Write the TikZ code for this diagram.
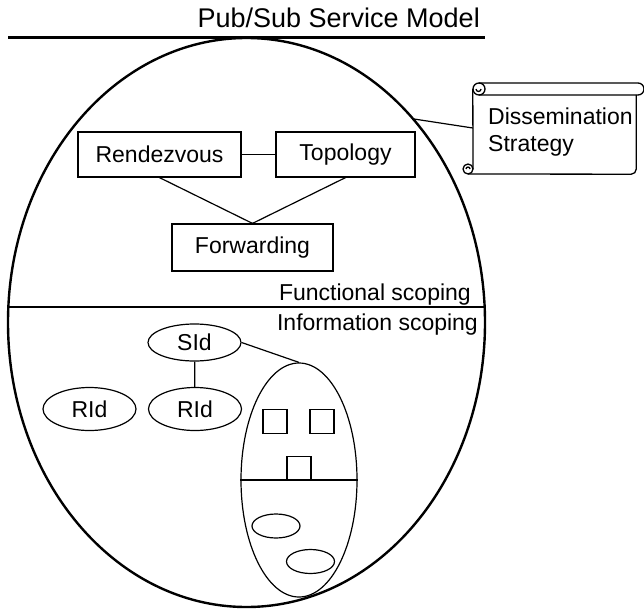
\documentclass[tikz,border=0pt]{standalone}
\usepackage{fontspec}
\setmainfont{Liberation Sans}
\usetikzlibrary{shapes.geometric}
\tikzstyle{model boundary}=[line width=2.4pt]
\tikzstyle{component}=[draw, line width=1.2pt, minimum height=45pt, inner sep=0pt]
\tikzstyle{id object}=[draw, ellipse, line width=1.2pt, minimum width=93pt, inner sep=0pt]
\tikzstyle{item box}=[draw, line width=1.2pt, minimum size=24pt, inner sep=0pt]
\tikzstyle{item object}=[draw, ellipse, line width=1.2pt, minimum width=48pt, minimum height=24pt, inner sep=0pt]
\tikzstyle{link}=[line width=1.2pt]
\tikzstyle{scope label}=[anchor=base east, inner sep=0pt]
\tikzstyle{scroll edge}=[line width=1.3pt, line join=round]

\begin{document}
\begin{tikzpicture}[x=1pt, y=-1pt, every node/.style={font=\fontsize{23}{27}\selectfont}]
  \useasboundingbox (0,0) rectangle (644,610);

  % service model frame
  \node[scope label, font=\fontsize{27}{30}\selectfont] (title) at (480,28) {Pub/Sub Service Model};
  \draw[model boundary] (8,37.5) -- (485,37.5);
  \node[draw, ellipse, model boundary, minimum width=477pt, minimum height=569pt, inner sep=0pt] (service) at (246.5,322.5) {};
  \draw[model boundary] (8,307) -- (485,307);
  \node[scope label] (functional) at (471,300) {Functional scoping};
  \node[scope label] (information) at (478,330) {Information scoping};

  % functional scoping
  \node[component, minimum width=163pt] (rendezvous) at (159.5,154.5) {Rendezvous};
  \node[component, minimum width=139pt] (topology) at (345.5,154.5) {Topology};
  \node[component, minimum width=161pt, minimum height=47pt] (forwarding) at (252.5,247.5) {Forwarding};
  \draw[link] (rendezvous) -- (topology);
  \draw[link] (rendezvous.south) -- (forwarding.north);
  \draw[link] (topology.south) -- (forwarding.north);

  % information scoping
  \node[id object, minimum height=37pt] (sid) at (194.5,342.5) {SId};
  \node[id object, minimum height=43pt] (rid left) at (89.5,409) {RId};
  \node[id object, minimum height=43pt] (rid right) at (195,409) {RId};
  \node[draw, ellipse, link, minimum width=116pt, minimum height=234pt, inner sep=0pt] (info space) at (299,480) {};
  \draw[link] (sid) -- (rid right);
  \draw[link] (sid.east) -- (info space.north);
  \draw[link] (info space.west) -- (info space.east);
  \node[item box] (item a) at (275,421.5) {};
  \node[item box] (item b) at (322,421.5) {};
  \node[item box] (item c) at (299,468.5) {};
  \node[item object] (item d) at (276,526) {};
  \node[item object] (item e) at (310.5,561.5) {};

  % dissemination strategy scroll
  \node[minimum width=163pt, minimum height=79pt, inner sep=0pt] (scroll) at (554.5,134.5) {};
  \node[anchor=north west, align=left, inner sep=0pt] (strategy) at (488,108) {Dissemination\\Strategy};
  \draw[scroll edge] (479,83) -- (638,83) arc[start angle=-90, end angle=90, radius=6] -- (479,95);
  \draw[scroll edge] (scroll.north west |- 0,89) -- (473,169);
  \draw[scroll edge, rounded corners=5pt] (scroll.north east) -- (scroll.south east) -- (468,174);
  \draw[scroll edge] (479,89) circle[radius=6];
  \draw[scroll edge] (481,89) arc[start angle=0, end angle=180, radius=2.5];
  \draw[scroll edge] (468,169) circle[radius=5];
  \draw[scroll edge] (470,169) arc[start angle=0, end angle=-180, radius=2];
  \coordinate (tap) at (414,119);
  \draw[link] (tap) -- ([yshift=6.5pt]scroll.west);
\end{tikzpicture}
\end{document}
